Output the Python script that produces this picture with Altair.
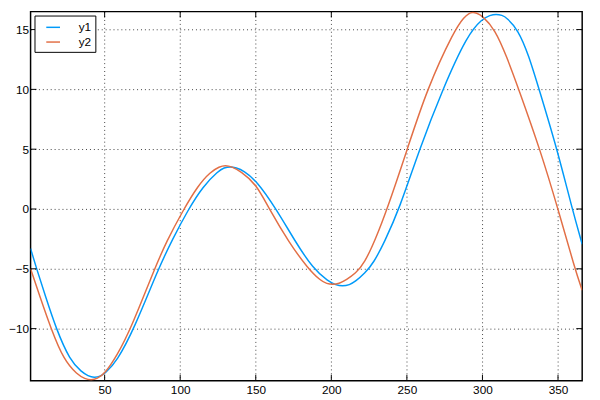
import altair as alt
import pandas as pd

# Series 1 (y1)
x1 = [1, 5, 11, 17.9, 27, 35, 39, 43.1, 47, 50.2, 58, 69.6, 85.5, 95, 105.1, 115, 125.5, 129, 133.1,
      137, 142, 150.3, 163.6, 176, 188, 198, 203, 207.3, 212, 216, 222, 228, 235, 245, 258.3, 273.6,
      290.2, 300, 305, 309, 313, 316, 323.5, 330.5, 337.5, 349.4, 359, 366]
y1 = [-3.3, -5, -7.35, -10, -12.65, -13.65, -13.95, -14.1, -14.0, -13.75, -12.75, -10, -5, -2.5, -0.1,
      1.9, 3.2, 3.45, 3.55, 3.45, 3.2, 2.4, 0, -2.7, -5, -6.05, -6.35, -6.45, -6.35, -6.05, -5.4,
      -4.5, -2.8, 0, 5, 10, 14.6, 15.9, 16.2, 16.3, 16.2, 16.0, 15.0, 12.9, 10, 5, 0.2, -2.95]

# Series 2 (y2)
x2 = [1, 7, 14.5, 23.1, 32, 37, 41, 45, 50.2, 58, 67.4, 83, 91, 101.5, 112, 120, 126, 129.9,
      134, 140, 150.3, 158.9, 172, 184.7, 193, 197, 200.9, 205, 210, 216, 222, 229, 237, 250.3,
      263.2, 281.6, 288, 291, 293.4, 296, 300, 308.4, 316, 323.5, 338.6, 350, 361.2, 366]
y2 = [-5.0, -7.25, -10, -12.65, -13.85, -14.2, -14.3, -14.2, -13.75, -12.3, -10, -5, -2.7, -0.2,
      2.0, 3.1, 3.55, 3.66, 3.55, 3.15, 2.1, 0, -2.8, -5, -6.0, -6.25, -6.31, -6.25, -5.9, -5.4,
      -4.5, -2.6, 0, 5, 10, 15, 16.05, 16.35, 16.45, 16.4, 16.15, 15, 12.75, 10.2, 4.8, 0, -5, -6.8]

series_names = ["y1", "y2"]
series_colors = ["#009AF9", "#E26F46"]
x_ticks = [50, 100, 150, 200, 250, 300, 350]
y_ticks = [-10, -5, 0, 5, 10, 15]
x_domain = [1, 366]
y_domain = [-14.35, 16.5]

W, H = 562, 376
FONT = "Liberation Sans"

df = pd.concat([
    pd.DataFrame({"x": x1, "y": y1, "series": "y1"}),
    pd.DataFrame({"x": x2, "y": y2, "series": "y2"}),
])
xt = pd.DataFrame({"t": x_ticks})
yt = pd.DataFrame({"t": y_ticks})

grid_kw = dict(grid=True, gridColor="#000000", gridOpacity=0.75, gridDash=[1, 3], gridWidth=1,
               ticks=False, domain=False, labelFontSize=12, labelColor="#000000",
               labelFont=FONT, title=None)

xscale = alt.Scale(domain=x_domain, nice=False, zero=False)
yscale = alt.Scale(domain=y_domain, nice=False, zero=False)

lines = alt.Chart(df).mark_line(strokeWidth=1.5, interpolate="basis", clip=True).encode(
    x=alt.X("x:Q", scale=xscale, axis=alt.Axis(values=x_ticks, labelPadding=4, **grid_kw)),
    y=alt.Y("y:Q", scale=yscale, axis=alt.Axis(values=y_ticks, labelPadding=2, **grid_kw)),
    color=alt.Color("series:N", scale=alt.Scale(domain=series_names, range=series_colors),
                    legend=alt.Legend(title=None, orient="top-left", offset=4,
                                      strokeColor="black", fillColor="white", padding=4,
                                      symbolType="stroke", symbolStrokeWidth=1.5,
                                      symbolSize=196, symbolOffset=7, labelFontSize=12,
                                      labelOffset=18, labelFont=FONT, rowPadding=1,
                                      labelColor="black", cornerRadius=0)),
    detail="series:N",
)

tick_y_left = alt.Chart(yt).mark_rule(color="black", strokeWidth=1).encode(
    y=alt.Y("t:Q", scale=yscale), x=alt.value(0), x2=alt.value(6))
tick_y_right = alt.Chart(yt).mark_rule(color="black", strokeWidth=1).encode(
    y=alt.Y("t:Q", scale=yscale), x=alt.value(W - 6), x2=alt.value(W))
tick_x_bottom = alt.Chart(xt).mark_rule(color="black", strokeWidth=1).encode(
    x=alt.X("t:Q", scale=xscale), y=alt.value(H - 6), y2=alt.value(H))
tick_x_top = alt.Chart(xt).mark_rule(color="black", strokeWidth=1).encode(
    x=alt.X("t:Q", scale=xscale), y=alt.value(0), y2=alt.value(6))

chart = alt.layer(lines, tick_y_left, tick_y_right, tick_x_bottom, tick_x_top).properties(
    width=W, height=H,
    background="white",
    autosize=alt.AutoSizeParams(type="none"),
    padding={"left": 23, "top": 0, "right": 10, "bottom": 16},
).configure_view(stroke="black", strokeWidth=1.5, strokeOpacity=1)

chart.save("out.html", embed_options={"renderer": "svg", "actions": False})
